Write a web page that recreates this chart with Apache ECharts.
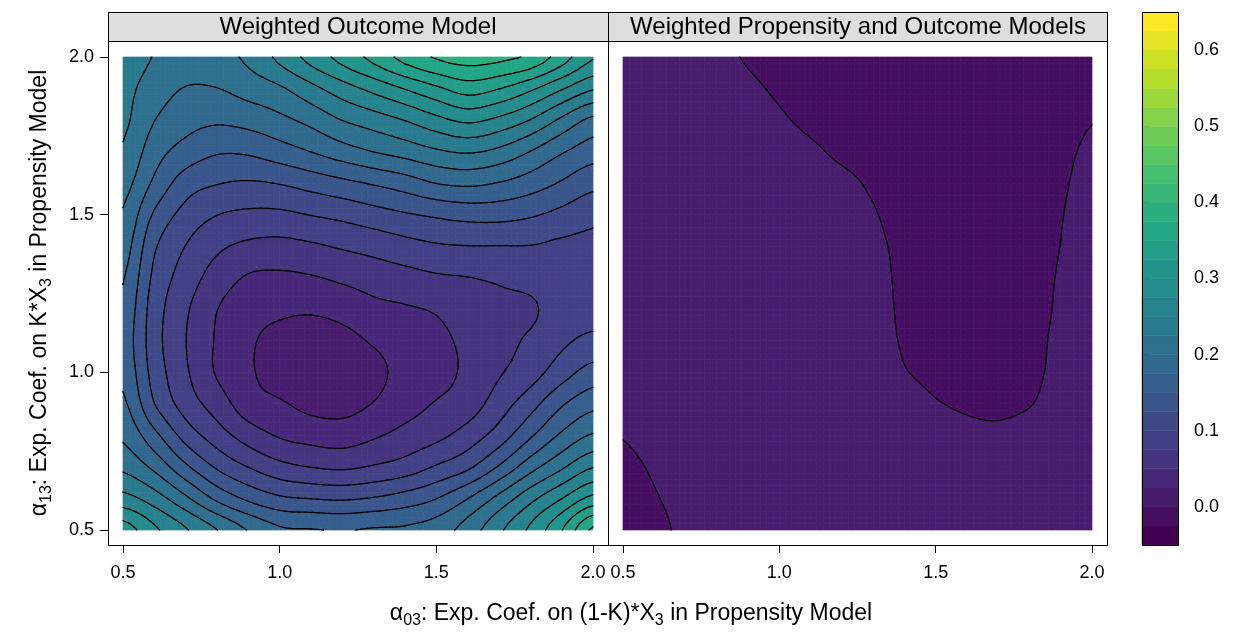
<!DOCTYPE html>
<html>
<head>
<meta charset="utf-8">
<script src="https://cdn.jsdelivr.net/npm/echarts@6/dist/echarts.min.js"></script>
<style>
  html, body { margin: 0; padding: 0; background: #fff; }
  #main { width: 1233px; height: 635px; }
</style>
</head>
<body>
<div id="main"></div>
<script>
// grid coordinates (columns = alpha03, rows = alpha13 from top to bottom)
var xs = [0.5, 0.6, 0.7, 0.8, 0.9, 1.0, 1.1, 1.2, 1.3, 1.4, 1.5, 1.6, 1.7, 1.8, 1.9, 2.0];
var ys = [2.0, 1.9, 1.8, 1.7, 1.6, 1.5, 1.4, 1.3, 1.2, 1.1, 1.0, 0.9, 0.8, 0.7, 0.6, 0.5];

// Weighted Outcome Model
var outcomeModel = [
  [0.2400, 0.2238, 0.2150, 0.2175, 0.2300, 0.2563, 0.2838, 0.3088, 0.3325, 0.3588, 0.3775, 0.3850, 0.3810, 0.3700, 0.3375, 0.3025],
  [0.2325, 0.2125, 0.1988, 0.1995, 0.2100, 0.2213, 0.2425, 0.2638, 0.2825, 0.3013, 0.3200, 0.3363, 0.3258, 0.3050, 0.2775, 0.2525],
  [0.2300, 0.2005, 0.1850, 0.1788, 0.1838, 0.1938, 0.2075, 0.2255, 0.2375, 0.2508, 0.2675, 0.2800, 0.2688, 0.2493, 0.2200, 0.1938],
  [0.2220, 0.1860, 0.1650, 0.1525, 0.1538, 0.1638, 0.1755, 0.1888, 0.2005, 0.2100, 0.2213, 0.2275, 0.2188, 0.1995, 0.1775, 0.1618],
  [0.2095, 0.1700, 0.1375, 0.1263, 0.1225, 0.1263, 0.1350, 0.1438, 0.1525, 0.1625, 0.1755, 0.1800, 0.1738, 0.1625, 0.1475, 0.1325],
  [0.1975, 0.1463, 0.1163, 0.1005, 0.0950, 0.0950, 0.1008, 0.1068, 0.1150, 0.1225, 0.1288, 0.1338, 0.1338, 0.1280, 0.1180, 0.1068],
  [0.1873, 0.1285, 0.0995, 0.0800, 0.0700, 0.0675, 0.0715, 0.0778, 0.0838, 0.0913, 0.0973, 0.0995, 0.0995, 0.0993, 0.0950, 0.0938],
  [0.1770, 0.1188, 0.0888, 0.0638, 0.0475, 0.0453, 0.0480, 0.0545, 0.0610, 0.0663, 0.0718, 0.0745, 0.0780, 0.0833, 0.0888, 0.0900],
  [0.1688, 0.1125, 0.0788, 0.0505, 0.0350, 0.0298, 0.0280, 0.0333, 0.0433, 0.0475, 0.0525, 0.0650, 0.0700, 0.0713, 0.0875, 0.0900],
  [0.1650, 0.1105, 0.0755, 0.0475, 0.0288, 0.0175, 0.0138, 0.0175, 0.0275, 0.0363, 0.0430, 0.0563, 0.0675, 0.0788, 0.0950, 0.1063],
  [0.1688, 0.1150, 0.0788, 0.0475, 0.0288, 0.0138, 0.0075, 0.0100, 0.0188, 0.0325, 0.0413, 0.0550, 0.0725, 0.0888, 0.1138, 0.1350],
  [0.1800, 0.1255, 0.0888, 0.0635, 0.0363, 0.0280, 0.0180, 0.0165, 0.0260, 0.0400, 0.0518, 0.0625, 0.0875, 0.1150, 0.1470, 0.1675],
  [0.1955, 0.1573, 0.1150, 0.0870, 0.0635, 0.0475, 0.0408, 0.0383, 0.0468, 0.0580, 0.0685, 0.0860, 0.1113, 0.1463, 0.1793, 0.2025],
  [0.2195, 0.1938, 0.1550, 0.1215, 0.0995, 0.0828, 0.0745, 0.0710, 0.0773, 0.0860, 0.1025, 0.1200, 0.1525, 0.1900, 0.2208, 0.2488],
  [0.2590, 0.2375, 0.2050, 0.1695, 0.1450, 0.1293, 0.1245, 0.1220, 0.1268, 0.1360, 0.1495, 0.1745, 0.2075, 0.2425, 0.2743, 0.3075],
  [0.3125, 0.2800, 0.2525, 0.2255, 0.1988, 0.1788, 0.1763, 0.1738, 0.1775, 0.1788, 0.1875, 0.2113, 0.2450, 0.2800, 0.3238, 0.3800]
];

// Weighted Propensity and Outcome Models
var bothModels = [
  [0.0150, 0.0150, 0.0150, 0.0075, -0.0025, -0.0100, -0.0100, -0.0100, -0.0100, -0.0100, -0.0100, -0.0100, -0.0100, -0.0100, -0.0100, -0.0100],
  [0.0150, 0.0150, 0.0150, 0.0150, 0.0058, -0.0042, -0.0100, -0.0100, -0.0100, -0.0100, -0.0100, -0.0100, -0.0100, -0.0100, -0.0100, -0.0100],
  [0.0150, 0.0150, 0.0150, 0.0150, 0.0140, 0.0040, -0.0060, -0.0100, -0.0100, -0.0100, -0.0100, -0.0100, -0.0100, -0.0100, -0.0100, -0.0010],
  [0.0150, 0.0150, 0.0150, 0.0150, 0.0150, 0.0150, 0.0050, -0.0050, -0.0100, -0.0100, -0.0100, -0.0100, -0.0100, -0.0100, -0.0055, 0.0045],
  [0.0150, 0.0150, 0.0150, 0.0150, 0.0150, 0.0150, 0.0150, 0.0065, -0.0035, -0.0100, -0.0100, -0.0100, -0.0100, -0.0100, -0.0028, 0.0072],
  [0.0150, 0.0150, 0.0150, 0.0150, 0.0150, 0.0150, 0.0150, 0.0118, 0.0018, -0.0082, -0.0100, -0.0100, -0.0100, -0.0100, -0.0010, 0.0090],
  [0.0150, 0.0150, 0.0150, 0.0150, 0.0150, 0.0150, 0.0150, 0.0150, 0.0050, -0.0050, -0.0100, -0.0100, -0.0100, -0.0097, 0.0003, 0.0103],
  [0.0150, 0.0150, 0.0150, 0.0150, 0.0150, 0.0150, 0.0150, 0.0150, 0.0062, -0.0038, -0.0100, -0.0100, -0.0100, -0.0080, 0.0020, 0.0120],
  [0.0150, 0.0150, 0.0150, 0.0150, 0.0150, 0.0150, 0.0150, 0.0150, 0.0069, -0.0031, -0.0100, -0.0100, -0.0100, -0.0070, 0.0030, 0.0130],
  [0.0150, 0.0150, 0.0150, 0.0150, 0.0150, 0.0150, 0.0150, 0.0150, 0.0080, -0.0020, -0.0100, -0.0100, -0.0100, -0.0055, 0.0045, 0.0145],
  [0.0150, 0.0150, 0.0150, 0.0150, 0.0150, 0.0150, 0.0150, 0.0150, 0.0115, 0.0015, -0.0080, -0.0100, -0.0100, -0.0045, 0.0055, 0.0150],
  [0.0100, 0.0150, 0.0150, 0.0150, 0.0150, 0.0150, 0.0150, 0.0150, 0.0150, 0.0137, 0.0020, -0.0034, -0.0050, -0.0010, 0.0090, 0.0150],
  [0.0012, 0.0110, 0.0150, 0.0150, 0.0150, 0.0150, 0.0150, 0.0150, 0.0150, 0.0150, 0.0120, 0.0066, 0.0050, 0.0090, 0.0150, 0.0150],
  [-0.0066, 0.0034, 0.0150, 0.0150, 0.0150, 0.0150, 0.0150, 0.0150, 0.0150, 0.0150, 0.0150, 0.0150, 0.0150, 0.0150, 0.0150, 0.0150],
  [-0.0100, -0.0018, 0.0082, 0.0150, 0.0150, 0.0150, 0.0150, 0.0150, 0.0150, 0.0150, 0.0150, 0.0150, 0.0150, 0.0150, 0.0150, 0.0150],
  [-0.0100, -0.0052, 0.0048, 0.0150, 0.0150, 0.0150, 0.0150, 0.0150, 0.0150, 0.0150, 0.0150, 0.0150, 0.0150, 0.0150, 0.0150, 0.0150]
];

// contour breaks / colour key
var levels = [-0.05, -0.025, 0, 0.025, 0.05, 0.075, 0.1, 0.125, 0.15, 0.175, 0.2, 0.225, 0.25, 0.275,
  0.3, 0.325, 0.35, 0.375, 0.4, 0.425, 0.45, 0.475, 0.5, 0.525, 0.55, 0.575, 0.6, 0.625, 0.65];
var keyTicks = [0.0, 0.1, 0.2, 0.3, 0.4, 0.5, 0.6];

var FONT = '"Liberation Sans", Arial, sans-serif';

// viridis
var vir = ['#440154', '#482576', '#414487', '#35608d', '#2a788e', '#21908c', '#22a884', '#43bf71', '#7ad151', '#bbdf27', '#fde725'];
function hex(c) { return [parseInt(c.substr(1, 2), 16), parseInt(c.substr(3, 2), 16), parseInt(c.substr(5, 2), 16)]; }
function viridis(t) {
  var p = t * 10, k = Math.min(9, Math.floor(p)), f = p - k;
  var a = hex(vir[k]), b = hex(vir[k + 1]);
  return 'rgb(' + a.map(function (v, n) { return Math.round(v + (b[n] - v) * f); }).join(',') + ')';
}
var bandColors = [];
for (var k = 0; k < levels.length - 1; k++) bandColors.push(viridis(k / (levels.length - 2)));

function bandOf(v) {
  for (var k = 0; k < levels.length - 2; k++) if (v < levels[k + 1]) return k;
  return levels.length - 2;
}

// smooth the drawn surface between the grid nodes
function cr(p0, p1, p2, p3, t) {
  return p1 + 0.5 * t * (p2 - p0 + t * (2 * p0 - 5 * p1 + 4 * p2 - p3 + t * (3 * (p1 - p2) + p3 - p0)));
}
function sampleGrid(g, fi, fj) {
  var nI = g[0].length, nJ = g.length;
  var i1 = Math.min(Math.floor(fi), nI - 2), j1 = Math.min(Math.floor(fj), nJ - 2);
  var ti = fi - i1, tj = fj - j1;
  function at(j, i) {
    j = Math.max(0, Math.min(nJ - 1, j));
    i = Math.max(0, Math.min(nI - 1, i));
    return g[j][i];
  }
  var r = [];
  for (var dj = -1; dj <= 2; dj++) {
    r.push(cr(at(j1 + dj, i1 - 1), at(j1 + dj, i1), at(j1 + dj, i1 + 1), at(j1 + dj, i1 + 2), ti));
  }
  return cr(r[0], r[1], r[2], r[3], tj);
}

var SUB = 5;
function meshFor(values, i, j, api) {
  var m = [];
  for (var b = 0; b <= SUB; b++) {
    var row = [];
    for (var a = 0; a <= SUB; a++) {
      var X = xs[i] + (xs[i + 1] - xs[i]) * a / SUB;
      var Y = ys[j] + (ys[j + 1] - ys[j]) * b / SUB;
      var p = api.coord([X, Y]);
      row.push([p[0], p[1], sampleGrid(values, i + a / SUB, j + b / SUB)]);
    }
    m.push(row);
  }
  return m;
}

function clip(poly, L, sgn) {
  var out = [];
  for (var n = 0; n < poly.length; n++) {
    var a = poly[n], b = poly[(n + 1) % poly.length];
    var da = sgn * (a[2] - L), db = sgn * (b[2] - L);
    if (da >= 0) out.push(a);
    if ((da >= 0) !== (db >= 0)) {
      var t = da / (da - db);
      out.push([a[0] + t * (b[0] - a[0]), a[1] + t * (b[1] - a[1]), a[2] + t * (b[2] - a[2])]);
    }
  }
  return out;
}

function polyEl(pts, k) {
  return {
    type: 'polygon',
    shape: { points: pts.map(function (p) { return [p[0], p[1]]; }) },
    style: { fill: bandColors[k], stroke: bandColors[k], lineWidth: 0.7 }
  };
}

function fillRenderer(values) {
  return function (params, api) {
    var m = meshFor(values, api.value(2), api.value(3), api);
    var kids = [];
    for (var b = 0; b < SUB; b++) {
      for (var a = 0; a < SUB; a++) {
        var q = [m[b][a], m[b][a + 1], m[b + 1][a + 1], m[b + 1][a]];
        var k0 = bandOf(q[0][2]);
        if (k0 === bandOf(q[1][2]) && k0 === bandOf(q[2][2]) && k0 === bandOf(q[3][2])) {
          kids.push(polyEl(q, k0));
          continue;
        }
        [[q[0], q[1], q[2]], [q[0], q[2], q[3]]].forEach(function (tri) {
          var vs = tri.map(function (p) { return p[2]; });
          var kLo = bandOf(Math.min.apply(null, vs)), kHi = bandOf(Math.max.apply(null, vs));
          for (var k = kLo; k <= kHi; k++) {
            var poly = clip(clip(tri, levels[k], 1), levels[k + 1], -1);
            if (poly.length >= 3) kids.push(polyEl(poly, k));
          }
        });
      }
    }
    return { type: 'group', children: kids };
  };
}

function lineRenderer(values) {
  return function (params, api) {
    var m = meshFor(values, api.value(2), api.value(3), api);
    var kids = [];
    for (var b = 0; b < SUB; b++) {
      for (var a = 0; a < SUB; a++) {
        var q = [m[b][a], m[b][a + 1], m[b + 1][a + 1], m[b + 1][a]];
        [[q[0], q[1], q[2]], [q[0], q[2], q[3]]].forEach(function (tri) {
          for (var k = 1; k < levels.length - 1; k++) {
            var L = levels[k], pts = [];
            for (var e = 0; e < 3; e++) {
              var p = tri[e], r = tri[(e + 1) % 3];
              if ((p[2] >= L) !== (r[2] >= L)) {
                var t = (L - p[2]) / (r[2] - p[2]);
                pts.push([p[0] + t * (r[0] - p[0]), p[1] + t * (r[1] - p[1])]);
              }
            }
            if (pts.length === 2) {
              kids.push({
                type: 'line',
                shape: { x1: pts[0][0], y1: pts[0][1], x2: pts[1][0], y2: pts[1][1] },
                style: { stroke: '#000', lineWidth: 1.25, lineCap: 'round' }
              });
            }
          }
        });
      }
    }
    return { type: 'group', children: kids };
  };
}

var cells = [];
for (var j = 0; j < ys.length - 1; j++) {
  for (var i = 0; i < xs.length - 1; i++) cells.push([xs[i], ys[j], i, j]);
}

function panelSeries(values, idx) {
  return [{
    type: 'custom', xAxisIndex: idx, yAxisIndex: idx, silent: true, z: 2,
    encode: { x: 0, y: 1 }, data: cells, renderItem: fillRenderer(values)
  }, {
    type: 'custom', xAxisIndex: idx, yAxisIndex: idx, silent: true, z: 3,
    encode: { x: 0, y: 1 }, data: cells, renderItem: lineRenderer(values)
  }];
}

var keyBands = [];
for (var k = 0; k < levels.length - 1; k++) keyBands.push([0, levels[k], levels[k + 1], k]);

function xAxisFor(idx) {
  return {
    gridIndex: idx, type: 'value', min: 0.5, max: 2.0, interval: 0.5, offset: 15,
    axisLine: { show: false }, splitLine: { show: false },
    axisTick: { show: true, length: 8, lineStyle: { color: '#000', width: 1 } },
    axisLabel: { fontSize: 18, color: '#000', fontFamily: FONT, margin: 19,
      formatter: function (v) { return v.toFixed(1); } }
  };
}

var option = {
  animation: false,
  grid: [
    { left: 123, top: 57, width: 470, height: 473 },
    { left: 623, top: 57, width: 469, height: 473 },
    { left: 1142, top: 12, width: 36, height: 533 }
  ],
  xAxis: [xAxisFor(0), xAxisFor(1), { gridIndex: 2, type: 'value', min: 0, max: 1, show: false }],
  yAxis: [
    {
      gridIndex: 0, type: 'value', min: 0.5, max: 2.0, interval: 0.5, offset: 15,
      axisLine: { show: false }, splitLine: { show: false },
      axisTick: { show: true, length: 8, lineStyle: { color: '#000', width: 1 } },
      axisLabel: { fontSize: 18, color: '#000', fontFamily: FONT, margin: 14,
        formatter: function (v) { return v.toFixed(1); } }
    },
    { gridIndex: 1, type: 'value', min: 0.5, max: 2.0, show: false },
    {
      gridIndex: 2, type: 'value', min: -0.05, max: 0.65, position: 'right',
      axisLine: { show: false }, splitLine: { show: false },
      axisTick: { show: true, length: 8, lineStyle: { color: '#000', width: 1 }, customValues: keyTicks },
      axisLabel: { fontSize: 18, color: '#000', fontFamily: FONT, margin: 16, customValues: keyTicks,
        formatter: function (v) { return v.toFixed(1); } }
    }
  ],
  series: panelSeries(outcomeModel, 0).concat(panelSeries(bothModels, 1)).concat([{
    type: 'custom', xAxisIndex: 2, yAxisIndex: 2, silent: true, z: 2,
    encode: { x: 0, y: 1 }, data: keyBands,
    renderItem: function (params, api) {
      var p0 = api.coord([0, api.value(1)]), p1 = api.coord([1, api.value(2)]);
      return {
        type: 'rect',
        shape: { x: p0[0], y: p1[1], width: p1[0] - p0[0], height: p0[1] - p1[1] },
        style: { fill: bandColors[api.value(3)], stroke: bandColors[api.value(3)], lineWidth: 0.5 }
      };
    }
  }]),
  graphic: [
    { type: 'rect', z: 50, shape: { x: 108.5, y: 12.5, width: 500, height: 29 },
      style: { fill: '#dedede', stroke: '#000', lineWidth: 1 } },
    { type: 'rect', z: 50, shape: { x: 608.5, y: 12.5, width: 499, height: 29 },
      style: { fill: '#dedede', stroke: '#000', lineWidth: 1 } },
    { type: 'rect', z: 51, shape: { x: 108.5, y: 12.5, width: 500, height: 533 },
      style: { fill: 'none', stroke: '#000', lineWidth: 1 } },
    { type: 'rect', z: 51, shape: { x: 608.5, y: 12.5, width: 499, height: 533 },
      style: { fill: 'none', stroke: '#000', lineWidth: 1 } },
    { type: 'rect', z: 51, shape: { x: 1142.5, y: 12.5, width: 36, height: 533 },
      style: { fill: 'none', stroke: '#000', lineWidth: 1 } },
    { type: 'text', z: 52, x: 358, y: 27,
      style: { text: 'Weighted Outcome Model', fontSize: 24, fontFamily: FONT, fill: '#000',
        align: 'center', verticalAlign: 'middle', textAlign: 'center', textVerticalAlign: 'middle' } },
    { type: 'text', z: 52, x: 858, y: 27,
      style: { text: 'Weighted Propensity and Outcome Models', fontSize: 24, fontFamily: FONT, fill: '#000',
        align: 'center', verticalAlign: 'middle', textAlign: 'center', textVerticalAlign: 'middle' } },
    { type: 'text', z: 52, x: 631, y: 614,
      style: {
        text: '{t|\u03b1}{s|03}{t|: Exp. Coef. on (1-K)*X}{s|3}{t| in Propensity Model}',
        align: 'center', verticalAlign: 'middle', textAlign: 'center', textVerticalAlign: 'middle',
        rich: {
          t: { fontSize: 23, fontFamily: FONT, fill: '#000', lineHeight: 30 },
          s: { fontSize: 16, fontFamily: FONT, fill: '#000', lineHeight: 16, verticalAlign: 'bottom' }
        }
      } },
    { type: 'text', z: 52, x: 40, y: 293, rotation: Math.PI / 2,
      style: {
        text: '{t|\u03b1}{s|13}{t|: Exp. Coef. on K*X}{s|3}{t| in Propensity Model}',
        align: 'center', verticalAlign: 'middle', textAlign: 'center', textVerticalAlign: 'middle',
        rich: {
          t: { fontSize: 23, fontFamily: FONT, fill: '#000', lineHeight: 30 },
          s: { fontSize: 16, fontFamily: FONT, fill: '#000', lineHeight: 16, verticalAlign: 'bottom' }
        }
      } }
  ]
};

var chart = echarts.init(document.getElementById('main'));
chart.setOption(option);
</script>
</body>
</html>
